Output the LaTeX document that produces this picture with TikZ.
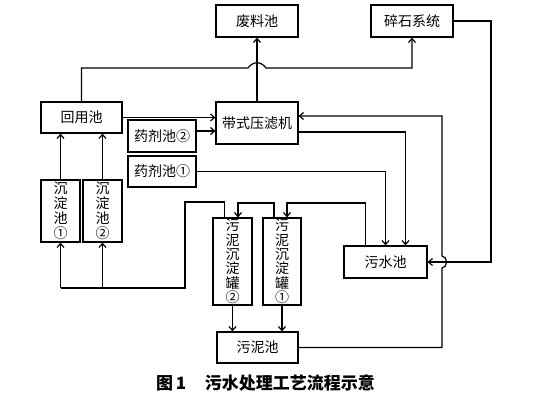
\documentclass[tikz,border=0pt]{standalone}
\usepackage{fontspec}
\setmainfont{Noto Sans CJK SC}
\usetikzlibrary{arrows.meta,positioning}

\tikzset{
  chi/.style = {draw, line width=1.2pt, inner sep=0pt, align=center,
                font=\fontsize{14}{16}\selectfont},
  hbox/.style = {chi, minimum width=82pt, minimum height=32pt},
  vbox/.style = {chi, minimum width=39pt, text width=15pt,
                 font=\fontsize{14}{14.3}\selectfont},
  flow/.style = {line width=1.2pt},
  flowto/.style = {flow, -{Straight Barb[length=4pt,width=7pt]}}
}

\begin{document}
\begin{tikzpicture}[x=1pt,y=-1pt]
\useasboundingbox (0,0) rectangle (536,402);

\node[hbox] (feiliao) at (257,21) {废料池};
\node[hbox] (suishi) at (412,21) {碎石系统};
\node[hbox, minimum width=81pt, minimum height=31pt] (huiyong) at (81.5,117.5) {回用池};
\node[hbox, minimum height=42pt] (yalv) at (257,123) {带式压滤机};
\node[hbox, minimum width=68pt] (yaoji2) at (162,136) {药剂池②};
\node[hbox, minimum width=68pt, minimum height=31pt] (yaoji1) at (162,171.5) {药剂池①};
\node[vbox, minimum height=62pt, font=\fontsize{14}{15}\selectfont] (chen1) at (60.5,211) {沉\\淀\\池\\①};
\node[vbox, minimum height=62pt, font=\fontsize{14}{15}\selectfont] (chen2) at (102.5,211) {沉\\淀\\池\\②};
\node[vbox, minimum height=87pt] (guan2) at (232.5,261.5) {污\\泥\\沉\\淀\\罐\\②};
\node[vbox, minimum height=87pt, minimum width=38pt] (guan1) at (282,261.5) {污\\泥\\沉\\淀\\罐\\①};
\node[hbox, minimum width=83pt] (wushui) at (385.5,262) {污水池};
\node[hbox, minimum width=81pt, minimum height=31pt] (wuni) at (257.5,347.5) {污泥池};

\node[font=\fontsize{17}{20}\selectfont\bfseries] (title) at (265.5,383)
  {图\,1\hspace{1.1em}污水处理工艺流程示意};

% upper part
\coordinate (hu1) at (81.5,68);
\coordinate (jumpa) at (248,68);
\coordinate (jumpb) at (266,68);
\coordinate (yj2) at ([yshift=5pt]yaoji2.east);
\draw[flowto] (yalv.north) -- (feiliao.south);
\draw[flowto] (huiyong.north) -- (hu1) -- (jumpa)
  .. controls (253,61) and (261,61) .. (jumpb) -| (suishi.south);
\draw[flowto] (huiyong.east) -- (yalv.west |- huiyong.east);
\draw[flowto] (yj2) -- (yalv.west |- yj2);
\draw[flowto] (yaoji1.east) -| (wushui.north);
\draw[flowto] ([yshift=-9pt]yalv.east) -| ([xshift=20pt]wushui.north);

% right side
\coordinate (ni1) at (442,347.5);
\coordinate (jumpc) at (442,268);
\coordinate (jumpd) at (442,256);
\coordinate (ni2) at (442,116);
\draw[flowto] (wuni.east) -- (ni1) -- (jumpc)
  .. controls (448,268) and (448,256) .. (jumpd) -- (ni2) -- (yalv.east |- ni2);
\coordinate (sui1) at (491,21);
\draw[flowto] (suishi.east) -- (sui1) |- (wushui.east);

% sludge tanks
\coordinate (ws1) at (365.5,203);
\draw[flowto] ([xshift=-20pt]wushui.north) -- (ws1) -| ([xshift=5pt]guan1.north);
\coordinate (g1) at (274,203);
\draw[flowto] ([xshift=-8pt]guan1.north) -- (g1) -| ([xshift=5.5pt]guan2.north);
\coordinate (g2) at (224.5,202);
\coordinate (g3) at (185,202);
\coordinate (g4) at (185,288);
\coordinate (g5) at (102.5,288);
\coordinate (g6) at (60.5,288);
\draw[flow] ([xshift=-8pt]guan2.north) -- (g2) -- (g3) -- (g4) -- (g6);
\draw[flowto] (g6) -- (chen1.south);
\draw[flowto] (g5) -- (chen2.south);
\draw[flowto] (chen1.north) -- (chen1.north |- huiyong.south);
\draw[flowto] (chen2.north) -- (chen2.north |- huiyong.south);
\draw[flowto] (guan2.south) -- (guan2.south |- wuni.north);
\draw[flowto] (guan1.south) -- (guan1.south |- wuni.north);
\end{tikzpicture}
\end{document}
